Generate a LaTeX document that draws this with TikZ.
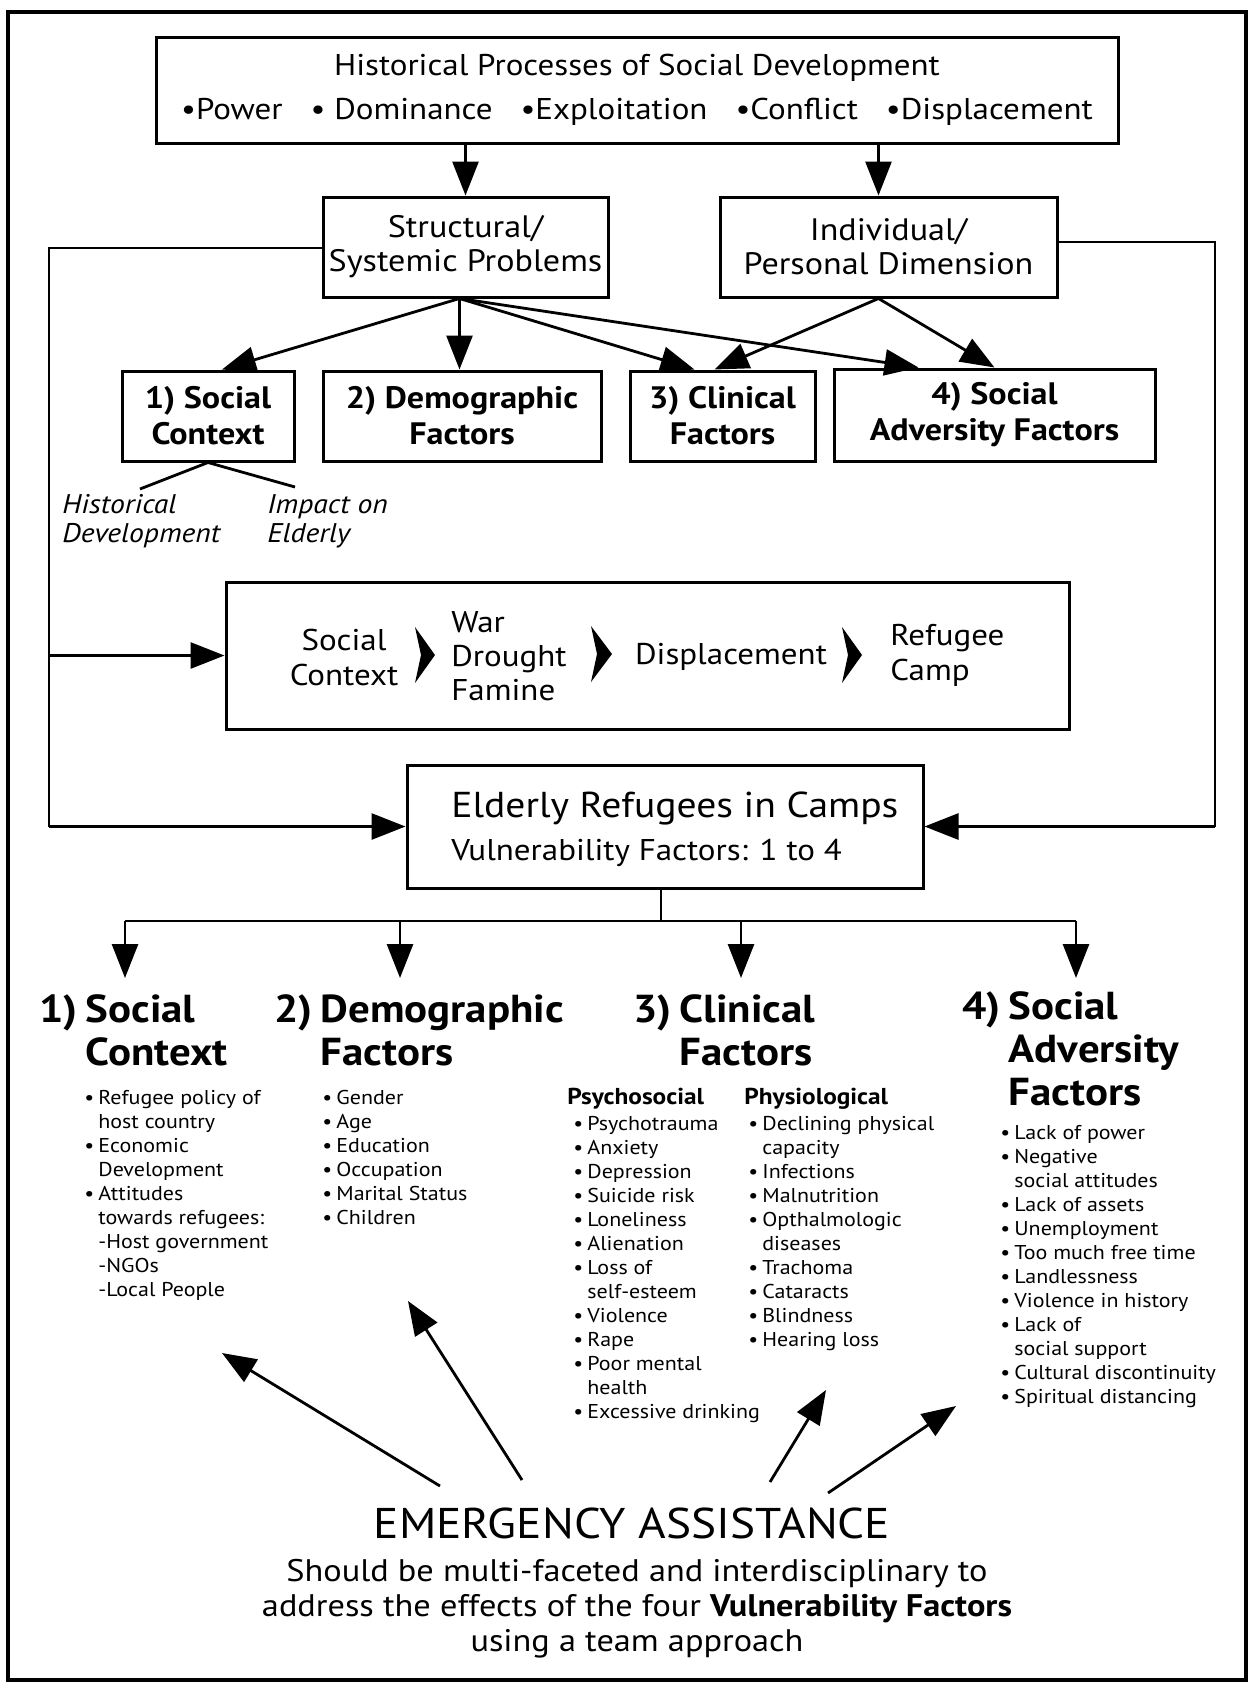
\documentclass[tikz,border=0pt]{standalone}
\usepackage{fontspec}
\setmainfont{PT Sans}[FakeStretch=1.1]
\usetikzlibrary{arrows.meta}

\newcommand{\fs}[2]{\fontsize{#1}{#2}\selectfont}
\newcommand{\itm}[1]{\makebox[7pt][l]{\textbullet}#1}
\newcommand{\cnt}[1]{\hspace*{7pt}#1}

\tikzset{
  box/.style={draw, line width=1.5pt, inner sep=0pt, align=center},
  link/.style={line width=1.4pt},
  arr/.style={line width=1.4pt, -{Triangle[length=17pt,width=13pt]}},
  chev/.style={fill=black},
  head/.style={anchor=base west, inner sep=0pt, font=\bfseries\fs{19.5}{21.5}},
  list/.style={anchor=base west, inner sep=0pt, font=\fs{10}{12}},
}

\begin{document}
\begin{tikzpicture}[x=0.5pt,y=-0.5pt]
    \useasboundingbox (0,0) rectangle (1251,1682);
    \draw [line width=2pt] (8,12) rectangle (1246,1680);

    % upper boxes
    \node [box, minimum width=481pt, minimum height=53pt, font=\fs{15}{22}] (hist) at (637,90)
        {Historical Processes of Social Development\\
         \textbullet Power\hspace{14pt}\textbullet{} Dominance\hspace{14pt}\textbullet Exploitation\hspace{14pt}\textbullet Conflict\hspace{14pt}\textbullet Displacement};
    \node [box, minimum width=142.5pt, minimum height=50pt, font=\fs{15.5}{17}] (struct) at (465.5,247) {Structural/\\Systemic Problems};
    \node [box, minimum width=168.5pt, minimum height=50pt, font=\fs{15.5}{17}] (indiv) at (888.5,247) {Individual/\\Personal Dimension};

    \node [box, minimum width=86pt, minimum height=45pt, font=\bfseries\fs{15.5}{18}] (soc) at (208,416) {1) Social\\Context};
    \node [box, minimum width=139pt, minimum height=45pt, font=\bfseries\fs{15.5}{18}] (demo) at (462,416) {2) Demographic\\Factors};
    \node [box, minimum width=92.5pt, minimum height=45pt, font=\bfseries\fs{15.5}{18}] (clin) at (722.5,416) {3) Clinical\\Factors};
    \node [box, minimum width=160.5pt, minimum height=46pt, font=\bfseries\fs{15.5}{18}] (adv) at (994.5,415) {4) Social\\Adversity Factors};

    \draw [arr] (struct.north |- hist.south) -- (struct.north);
    \draw [arr] ([xshift=-5pt]indiv.north |- hist.south) -- ([xshift=-5pt]indiv.north);

    \coordinate (sb) at ([xshift=-3pt]struct.south);
    \coordinate (ib) at ([xshift=-5pt]indiv.south);
    \draw [arr] (sb) -- ([xshift=7pt]soc.north);
    \draw [arr] (sb) -- (sb |- demo.north);
    \draw [arr] (sb) -- ([xshift=-14pt]clin.north);
    \draw [arr] (sb) -- ([xshift=-38pt]adv.north);
    \draw [arr] (ib) -- ([xshift=-4pt]clin.north);
    \draw [arr] (ib) -- (adv.north);

    % social context branches
    \node [anchor=north west, inner sep=0pt, align=left, font=\itshape\fs{13.5}{14.5}] (histdev) at (62,494) {Historical\\Development};
    \node [anchor=north west, inner sep=0pt, align=left, font=\itshape\fs{13.5}{14.5}] (impact) at (267,494) {Impact on\\Elderly};
    \coordinate (hd) at (140,489);
    \coordinate (ie) at (295,487);
    \draw [link] (hd) -- (soc.south) -- (ie);

    % sequence box
    \node [box, minimum width=421.5pt, minimum height=73.5pt] (seq) at (647.5,655.5) {};
    \node [align=center, inner sep=0pt, font=\fs{15}{17.5}] (s1) at (344,657) {Social\\Context};
    \node [anchor=west, align=left, inner sep=0pt, font=\fs{15}{17}] (s2) at (451,656) {War\\Drought\\Famine};
    \node [inner sep=0pt, font=\fs{15}{17}] (s3) at (731,657) {Displacement};
    \node [anchor=west, align=left, inner sep=0pt, font=\fs{15}{17.5}] (s4) at (890,655) {Refugee\\Camp};
    \fill [chev] (415,627) -- (435,655) -- (415,683) -- (421,655) -- cycle;
    \fill [chev] (591,626) -- (612,654) -- (591,682) -- (597,654) -- cycle;
    \fill [chev] (842,627) -- (862,655) -- (842,683) -- (848,655) -- cycle;

    % elderly box
    \node [box, minimum width=258pt, minimum height=61.5pt] (eld) at (665,826.5) {};
    \node [anchor=west, inner sep=0pt, font=\fs{18}{22}] (eld1) at (451,808) {Elderly Refugees in Camps};
    \node [anchor=west, inner sep=0pt, font=\fs{15}{18}] (eld2) at (451,853) {Vulnerability Factors: 1 to 4};

    % feedback lines
    \coordinate (lc) at (49,248);
    \coordinate (rc) at (1215,242);
    \draw [link] (struct.west |- lc) -- (lc) -- (lc |- eld.west);
    \draw [arr] (lc |- eld.west) -- (eld.west);
    \draw [arr] (lc |- seq.west) -- (seq.west);
    \draw [link] (indiv.east |- rc) -- (rc) -- (rc |- eld.east);
    \draw [arr] (rc |- eld.east) -- (eld.east);

    % distribution
    \coordinate (j) at (661,921);
    \coordinate (t1) at (125,978);
    \coordinate (t2) at (400,978);
    \coordinate (t3) at (741,978);
    \coordinate (t4) at (1076,978);
    \draw [link] (eld.south -| j) -- (j);
    \draw [link] (j -| t1) -- (j -| t4);
    \foreach \t in {t1,t2,t3,t4}
        \draw [arr] (j -| \t) -- (\t);

    % headings
    \node [head] (h1) at (39,1022) {\begin{tabular}[t]{@{}l@{\hspace{4pt}}l@{}}1) & Social\\ & Context\end{tabular}};
    \node [head] (h2) at (274,1022) {\begin{tabular}[t]{@{}l@{\hspace{4pt}}l@{}}2) & Demographic\\ & Factors\end{tabular}};
    \node [head] (h3) at (633,1022) {\begin{tabular}[t]{@{}l@{\hspace{4pt}}l@{}}3) & Clinical\\ & Factors\end{tabular}};
    \node [head] (h4) at (962,1019) {\begin{tabular}[t]{@{}l@{\hspace{4pt}}l@{}}4) & Social\\ & Adversity\\ & Factors\end{tabular}};

    % lists
    \node [list] (l1) at (84,1104) {\begin{tabular}[t]{@{}l@{}}
        \itm{Refugee policy of}\\ \cnt{host country}\\ \itm{Economic}\\ \cnt{Development}\\
        \itm{Attitudes}\\ \cnt{towards refugees:}\\ \cnt{-Host government}\\ \cnt{-NGOs}\\ \cnt{-Local People}
        \end{tabular}};
    \node [list] (l2) at (322,1104) {\begin{tabular}[t]{@{}l@{}}
        \itm{Gender}\\ \itm{Age}\\ \itm{Education}\\ \itm{Occupation}\\ \itm{Marital Status}\\ \itm{Children}
        \end{tabular}};
    \node [list] (l3a) at (567,1104) {\begin{tabular}[t]{@{}l@{}}
        \textbf{\fs{11.5}{12}Psychosocial}\\[1pt]
        \hspace*{3pt}\itm{Psychotrauma}\\ \hspace*{3pt}\itm{Anxiety}\\ \hspace*{3pt}\itm{Depression}\\
        \hspace*{3pt}\itm{Suicide risk}\\ \hspace*{3pt}\itm{Loneliness}\\ \hspace*{3pt}\itm{Alienation}\\
        \hspace*{3pt}\itm{Loss of}\\ \hspace*{3pt}\cnt{self-esteem}\\ \hspace*{3pt}\itm{Violence}\\
        \hspace*{3pt}\itm{Rape}\\ \hspace*{3pt}\itm{Poor mental}\\ \hspace*{3pt}\cnt{health}\\
        \hspace*{3pt}\itm{Excessive drinking}
        \end{tabular}};
    \node [list] (l3b) at (744,1104) {\begin{tabular}[t]{@{}l@{}}
        \textbf{\fs{11.5}{12}Physiological}\\[1pt]
        \hspace*{2pt}\itm{Declining physical}\\ \hspace*{2pt}\cnt{capacity}\\ \hspace*{2pt}\itm{Infections}\\
        \hspace*{2pt}\itm{Malnutrition}\\ \hspace*{2pt}\itm{Opthalmologic}\\ \hspace*{2pt}\cnt{diseases}\\
        \hspace*{2pt}\itm{Trachoma}\\ \hspace*{2pt}\itm{Cataracts}\\ \hspace*{2pt}\itm{Blindness}\\
        \hspace*{2pt}\itm{Hearing loss}
        \end{tabular}};
    \node [list] (l4) at (1000,1139) {\begin{tabular}[t]{@{}l@{}}
        \itm{Lack of power}\\ \itm{Negative}\\ \cnt{social attitudes}\\ \itm{Lack of assets}\\
        \itm{Unemployment}\\ \itm{Too much free time}\\ \itm{Landlessness}\\ \itm{Violence in history}\\
        \itm{Lack of}\\ \cnt{social support}\\ \itm{Cultural discontinuity}\\ \itm{Spiritual distancing}
        \end{tabular}};

    % emergency assistance
    \node [inner sep=0pt, font=\fs{21.5}{26}] (emerg) at (632,1523) {EMERGENCY ASSISTANCE};
    \node [inner sep=0pt, align=center, font=\fs{15.6}{17.5}] (note) at (637,1609)
        {Should be multi-faceted and interdisciplinary to\\
         address the effects of the four \textbf{Vulnerability Factors}\\
         using a team approach};
    \coordinate (e1) at (440,1486);
    \coordinate (e2) at (522,1480);
    \coordinate (e3) at (770,1482);
    \coordinate (e4) at (828,1493);
    \coordinate (p1) at (222,1353);
    \coordinate (p2) at (408,1301);
    \coordinate (p3) at (826,1390);
    \coordinate (p4) at (956,1406);
    \draw [arr] (e1) -- (p1);
    \draw [arr] (e2) -- (p2);
    \draw [arr] (e3) -- (p3);
    \draw [arr] (e4) -- (p4);
\end{tikzpicture}
\end{document}
